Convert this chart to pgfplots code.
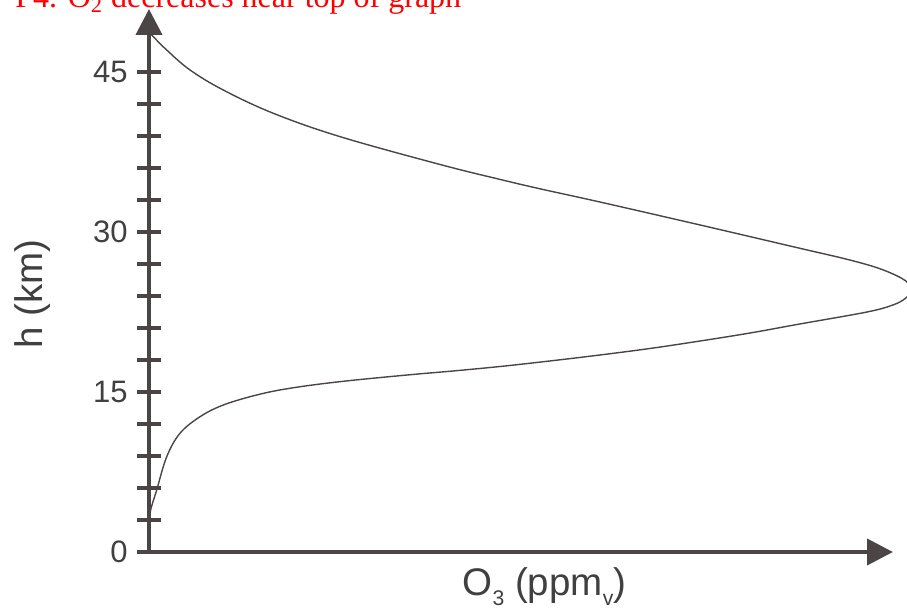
\documentclass[border=0pt]{standalone}
\usepackage{fontspec}
\setmainfont{Liberation Sans}
\newfontfamily\serifred{Liberation Serif}
\usepackage{pgfplots}
\pgfplotsset{compat=1.18}
\usetikzlibrary{arrows.meta}
\definecolor{axgray}{RGB}{75,69,70}
\definecolor{txtgray}{RGB}{64,64,64}
\newcommand{\sub}[1]{\raisebox{-0.28em}{\scalebox{0.55}{#1}}}
\begin{document}
\begin{tikzpicture}
\begin{axis}[
  at={(74.5pt,-276pt)}, anchor=south west,
  scale only axis, width=372pt, height=271.5pt,
  xmin=0, xmax=7.44, ymin=0, ymax=50.906,
  axis lines=left,
  axis line style={line width=2pt, draw=axgray, -{Triangle[length=13pt,width=13pt]}},
  clip=false,
  xtick=\empty,
  ytick={0,15,30,45},
  minor ytick={3,6,9,12,18,21,24,27,33,36,39,42},
  tick align=center,
  major tick length=12pt, minor tick length=12pt,
  every tick/.style={line width=2pt, draw=axgray},
  minor tick style={line width=2pt, draw=axgray},
  major tick style={line width=2pt, draw=axgray},
  /pgf/number format/assume math mode=true,
  yticklabel style={font=\fontsize{15.5}{18}\selectfont, text=txtgray, inner sep=0pt, anchor=east, xshift=-4.5pt},
  xlabel={O\sub{3} (ppm\sub{v})},
  ylabel={h (km)},
  label style={font=\fontsize{19.25}{23}\selectfont, text=txtgray},
  xlabel style={at={(axis description cs:0.5316,-0.0792)}, anchor=base, inner sep=0pt},
  ylabel style={at={(axis description cs:-0.1425,0.475)}, anchor=base, rotate=0, inner sep=0pt},
]
\addplot[draw=axgray, line width=0.7pt, smooth, tension=0.6] coordinates {
(0.000,2.6) (0.010,3.63) (0.030,4.41) (0.077,5.81) (0.177,8.93) (0.310,11.13)
(0.510,12.68) (0.743,13.78) (1.077,14.72) (1.410,15.35) (1.910,15.97)
(2.577,16.59) (3.040,16.97) (3.510,17.39) (4.010,17.91) (4.510,18.47)
(5.010,19.08) (5.510,19.78) (6.010,20.53) (6.510,21.38) (7.180,22.50)
(7.440,23.16) (7.560,23.75) (7.610,24.35)
(7.577,25.34) (7.343,26.44) (7.010,27.37) (6.510,28.47) (5.510,30.66)
(4.510,32.81) (3.910,34.05) (3.510,34.93) (2.910,36.33) (1.910,38.94)
(1.243,41.13) (0.743,43.31) (0.410,45.19) (0.177,47.06) (0.043,48.31) (0.010,48.63)
};
\end{axis}
\node[anchor=base west, inner sep=0pt, text=red, font=\serifred\fontsize{16}{19}\selectfont] at (7.5pt,-3.5pt) {P4. O\textsubscript{2} decreases near top of graph};
\pgfresetboundingbox
\path[use as bounding box] (0pt,0pt) rectangle (453.5pt,-308pt);
\end{tikzpicture}
\end{document}
